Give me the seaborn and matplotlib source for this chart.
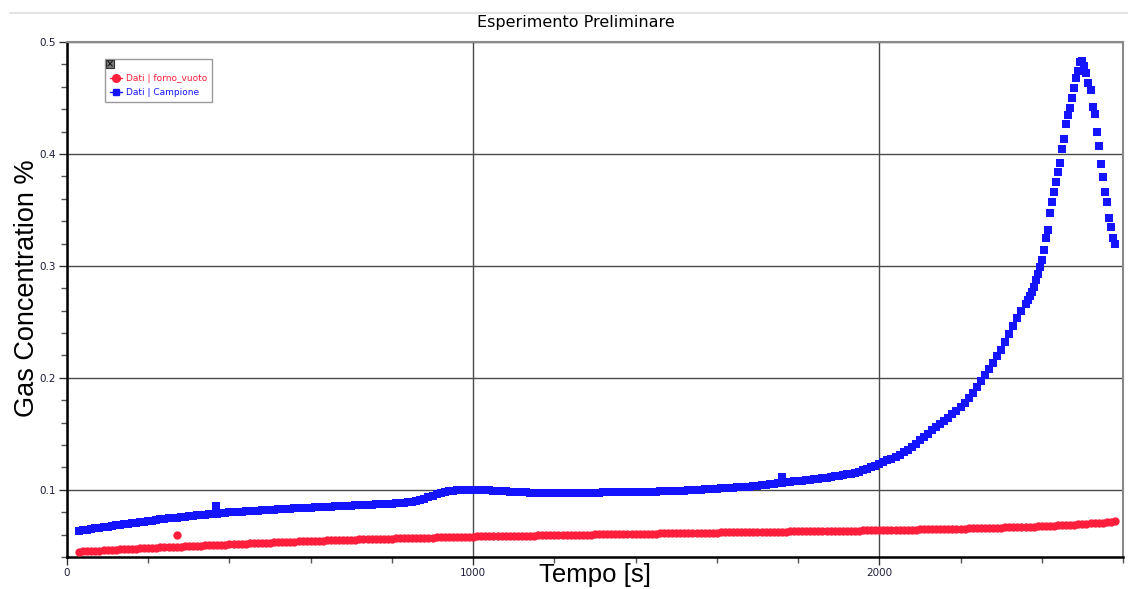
import numpy as np
import pandas as pd
import matplotlib
matplotlib.use("Agg")
import matplotlib.pyplot as plt
import seaborn as sns
from matplotlib.lines import Line2D
from matplotlib.patches import Rectangle
from matplotlib.ticker import MultipleLocator, FormatStrFormatter

# ---------------------------------------------------------------------------
# Data: gas concentration (%) vs time (s)
# ---------------------------------------------------------------------------
# empty furnace run, logged every 10 s from 30 s to 2580 s
empty_t = np.arange(30, 2581, 10)
empty_gas = [
    0.0448, 0.0450, 0.0452, 0.0454, 0.0456, 0.0458, 0.0460, 0.0462, 0.0463, 0.0465,
    0.0467, 0.0469, 0.0471, 0.0472, 0.0474, 0.0476, 0.0478, 0.0480, 0.0481, 0.0483,
    0.0485, 0.0487, 0.0488, 0.0490, 0.0492, 0.0493, 0.0495, 0.0497, 0.0498, 0.0500,
    0.0502, 0.0503, 0.0505, 0.0507, 0.0508, 0.0510, 0.0511, 0.0513, 0.0515, 0.0516,
    0.0518, 0.0519, 0.0521, 0.0522, 0.0524, 0.0525, 0.0527, 0.0528, 0.0530, 0.0531,
    0.0533, 0.0534, 0.0536, 0.0537, 0.0539, 0.0540, 0.0541, 0.0543, 0.0544, 0.0546,
    0.0547, 0.0548, 0.0549, 0.0550, 0.0551, 0.0552, 0.0553, 0.0555, 0.0556, 0.0557,
    0.0558, 0.0559, 0.0560, 0.0561, 0.0562, 0.0563, 0.0564, 0.0565, 0.0566, 0.0567,
    0.0568, 0.0569, 0.0570, 0.0571, 0.0572, 0.0572, 0.0573, 0.0574, 0.0575, 0.0576,
    0.0577, 0.0578, 0.0579, 0.0580, 0.0580, 0.0581, 0.0582, 0.0583, 0.0584, 0.0584,
    0.0585, 0.0586, 0.0586, 0.0587, 0.0588, 0.0588, 0.0589, 0.0589, 0.0590, 0.0590,
    0.0591, 0.0592, 0.0592, 0.0593, 0.0593, 0.0594, 0.0594, 0.0595, 0.0596, 0.0596,
    0.0597, 0.0598, 0.0598, 0.0599, 0.0599, 0.0600, 0.0600, 0.0601, 0.0602, 0.0602,
    0.0603, 0.0603, 0.0604, 0.0604, 0.0605, 0.0605, 0.0606, 0.0606, 0.0607, 0.0607,
    0.0608, 0.0609, 0.0609, 0.0610, 0.0610, 0.0611, 0.0611, 0.0612, 0.0613, 0.0613,
    0.0614, 0.0614, 0.0615, 0.0616, 0.0616, 0.0617, 0.0617, 0.0618, 0.0619, 0.0619,
    0.0620, 0.0620, 0.0621, 0.0621, 0.0622, 0.0622, 0.0623, 0.0623, 0.0626, 0.0625,
    0.0625, 0.0626, 0.0626, 0.0627, 0.0627, 0.0628, 0.0628, 0.0629, 0.0629, 0.0630,
    0.0630, 0.0631, 0.0631, 0.0632, 0.0632, 0.0633, 0.0633, 0.0634, 0.0634, 0.0635,
    0.0635, 0.0636, 0.0636, 0.0637, 0.0638, 0.0638, 0.0639, 0.0639, 0.0640, 0.0640,
    0.0641, 0.0642, 0.0642, 0.0643, 0.0644, 0.0644, 0.0645, 0.0646, 0.0646, 0.0647,
    0.0648, 0.0649, 0.0650, 0.0650, 0.0651, 0.0652, 0.0653, 0.0654, 0.0654, 0.0655,
    0.0656, 0.0657, 0.0658, 0.0659, 0.0660, 0.0661, 0.0662, 0.0663, 0.0664, 0.0665,
    0.0666, 0.0667, 0.0668, 0.0670, 0.0671, 0.0672, 0.0674, 0.0675, 0.0677, 0.0678,
    0.0680, 0.0682, 0.0684, 0.0686, 0.0688, 0.0690, 0.0692, 0.0695, 0.0697, 0.0700,
    0.0702, 0.0705, 0.0708, 0.0711, 0.0714, 0.0718,
]
empty_spike_t = [270]
empty_spike_gas = [0.0598]

# sample run: 10 s steps up to 2360 s, then 5 s steps through the peak
sample_t = np.concatenate([np.arange(30, 2361, 10), np.arange(2365, 2581, 5)])
sample_gas = [
    0.0633, 0.0639, 0.0645, 0.0651, 0.0656, 0.0662, 0.0667, 0.0672, 0.0677, 0.0682,
    0.0687, 0.0692, 0.0697, 0.0702, 0.0707, 0.0712, 0.0717, 0.0722, 0.0726, 0.0731,
    0.0735, 0.0740, 0.0744, 0.0748, 0.0752, 0.0756, 0.0760, 0.0765, 0.0768, 0.0772,
    0.0775, 0.0778, 0.0782, 0.0785, 0.0788, 0.0791, 0.0794, 0.0798, 0.0800, 0.0803,
    0.0805, 0.0808, 0.0810, 0.0813, 0.0815, 0.0817, 0.0820, 0.0822, 0.0824, 0.0826,
    0.0828, 0.0830, 0.0832, 0.0834, 0.0836, 0.0838, 0.0840, 0.0842, 0.0844, 0.0846,
    0.0847, 0.0849, 0.0851, 0.0853, 0.0854, 0.0856, 0.0858, 0.0860, 0.0862, 0.0863,
    0.0865, 0.0867, 0.0868, 0.0870, 0.0872, 0.0873, 0.0875, 0.0877, 0.0879, 0.0881,
    0.0884, 0.0888, 0.0893, 0.0900, 0.0910, 0.0922, 0.0935, 0.0948, 0.0960, 0.0970,
    0.0980, 0.0988, 0.0993, 0.0996, 0.0998, 0.0999, 0.0999, 0.0999, 0.0998, 0.0997,
    0.0996, 0.0994, 0.0992, 0.0990, 0.0988, 0.0986, 0.0984, 0.0982, 0.0980, 0.0978,
    0.0977, 0.0976, 0.0975, 0.0974, 0.0974, 0.0973, 0.0973, 0.0973, 0.0973, 0.0973,
    0.0974, 0.0974, 0.0974, 0.0975, 0.0975, 0.0975, 0.0976, 0.0976, 0.0976, 0.0977,
    0.0977, 0.0978, 0.0978, 0.0979, 0.0979, 0.0980, 0.0980, 0.0981, 0.0982, 0.0982,
    0.0983, 0.0984, 0.0985, 0.0986, 0.0987, 0.0988, 0.0989, 0.0990, 0.0991, 0.0993,
    0.0995, 0.0997, 0.1000, 0.1002, 0.1004, 0.1006, 0.1008, 0.1010, 0.1012, 0.1014,
    0.1016, 0.1018, 0.1021, 0.1023, 0.1026, 0.1029, 0.1032, 0.1035, 0.1039, 0.1043,
    0.1048, 0.1053, 0.1058, 0.1063, 0.1068, 0.1072, 0.1076, 0.1079, 0.1083, 0.1087,
    0.1091, 0.1095, 0.1100, 0.1105, 0.1110, 0.1115, 0.1120, 0.1126, 0.1132, 0.1138,
    0.1145, 0.1152, 0.1162, 0.1175, 0.1188, 0.1202, 0.1217, 0.1233, 0.1247, 0.1262,
    0.1277, 0.1295, 0.1315, 0.1337, 0.1360, 0.1385, 0.1413, 0.1442, 0.1472, 0.1502,
    0.1530, 0.1558, 0.1585, 0.1612, 0.1642, 0.1673, 0.1706, 0.1740, 0.1780, 0.1822,
    0.1866, 0.1918, 0.1970, 0.2025, 0.2080, 0.2135, 0.2192, 0.2252, 0.2320, 0.2393,
    0.2465, 0.2535, 0.2598, 0.2660,
    # 5 s steps, 2365 s .. 2580 s
    0.2695, 0.2730, 0.2770, 0.2815, 0.2870, 0.2930, 0.2990, 0.3050, 0.3140, 0.3250,
    0.3320, 0.3470, 0.3570, 0.3660, 0.3750, 0.3840, 0.3920, 0.4040, 0.4130, 0.4270,
    0.4350, 0.4410, 0.4500, 0.4590, 0.4680, 0.4740, 0.4820, 0.4830, 0.4790, 0.4720,
    0.4630, 0.4570, 0.4420, 0.4360, 0.4200, 0.4070, 0.3910, 0.3790, 0.3660, 0.3570,
    0.3430, 0.3350, 0.3250, 0.3200,
]
sample_spike_t = [367, 1760]
sample_spike_gas = [0.0857, 0.1119]

series_labels = ["Dati | forno_vuoto", "Dati | Campione"]
series_colors = ["#ff1e3c", "#1414ff"]

assert len(empty_t) == len(empty_gas)
assert len(sample_t) == len(sample_gas)

empty_df = pd.DataFrame({
    "t": np.concatenate([empty_t, empty_spike_t]),
    "gas": np.concatenate([empty_gas, empty_spike_gas]),
})
sample_df = pd.DataFrame({
    "t": np.concatenate([sample_t, sample_spike_t]),
    "gas": np.concatenate([sample_gas, sample_spike_gas]),
})

# ---------------------------------------------------------------------------
# Figure
# ---------------------------------------------------------------------------
sns.set_theme(style="ticks")
plt.rcParams["font.family"] = ["DejaVu Sans"]

W, H = 1128, 589
fig = plt.figure(figsize=(W / 100, H / 100), dpi=100)
ax = fig.add_axes([67 / W, 1 - 557 / H, (1123 - 67) / W, (557 - 42) / H])

sns.scatterplot(data=empty_df, x="t", y="gas", marker="o", s=36,
                color=series_colors[0], linewidth=0, ax=ax, legend=False, zorder=3)
sns.scatterplot(data=sample_df, x="t", y="gas", marker="s", s=40,
                color=series_colors[1], linewidth=0, ax=ax, legend=False, zorder=4)

ax.set_xlim(0, 2600)
ax.set_ylim(0.04, 0.5)

ax.xaxis.set_major_locator(MultipleLocator(1000))
ax.xaxis.set_minor_locator(MultipleLocator(200))
ax.yaxis.set_major_locator(MultipleLocator(0.1))
ax.yaxis.set_minor_locator(MultipleLocator(0.02))
ax.xaxis.set_major_formatter(FormatStrFormatter("%d"))
ax.yaxis.set_major_formatter(FormatStrFormatter("%.1f"))

ax.tick_params(axis="both", which="major", direction="out", length=6, width=1,
               color="#333333", labelsize=7.5, labelcolor="#1e1e3c", pad=2)
ax.tick_params(axis="both", which="minor", direction="out", length=4, width=1,
               color="#555555")

ax.set_axisbelow(True)
ax.grid(True, which="major", color="#4a4a4a", linewidth=1.0)

for side in ("left", "bottom"):
    ax.spines[side].set_color("black")
    ax.spines[side].set_linewidth(1.8)
for side in ("top", "right"):
    ax.spines[side].set_color("#8a8a8a")
    ax.spines[side].set_linewidth(1.5)

ax.set_xlabel("Tempo [s]", fontsize=18.5, family="Liberation Sans", color="black")
ax.set_ylabel("Gas Concentration %", fontsize=19.5, family="Liberation Sans", color="black")
ax.xaxis.set_label_coords(0.5, -0.012)
ax.yaxis.set_label_coords(-0.026, 0.522)

fig.text(576 / W, 1 - 22 / H, "Esperimento Preliminare", ha="center", va="center",
         fontsize=11.5, color="black")

# legend with coloured entry texts
handles = [
    Line2D([], [], color=series_colors[0], marker="o", markersize=5.5, lw=1),
    Line2D([], [], color=series_colors[1], marker="s", markersize=5, lw=1),
]
leg = ax.legend(handles, series_labels, loc="upper left",
                bbox_to_anchor=(0.036, 0.967), borderaxespad=0,
                fontsize=6.5, frameon=True, fancybox=False, framealpha=1,
                edgecolor="#9a9a9a", handlelength=1.4, handletextpad=0.4,
                borderpad=0.5, labelspacing=0.6, numpoints=1,
                title=" ", title_fontsize=4.5)
leg.get_frame().set_linewidth(1.0)
for txt, c in zip(leg.get_texts(), series_colors):
    txt.set_color(c)

# small close box in the legend corner
fig.add_artist(Rectangle((106 / W, 1 - 68 / H), 8 / W, 8 / H, transform=fig.transFigure,
                         facecolor="#7a7a7a", edgecolor="#333333", linewidth=0.8, zorder=10))
fig.text(110 / W, 1 - 64 / H, "×", ha="center", va="center", fontsize=7,
         color="black", zorder=11)

# thin separator along the top of the window
fig.add_artist(Line2D([10 / W, 1.0], [1 - 13 / H, 1 - 13 / H], transform=fig.transFigure,
                      color="#e4e4e4", linewidth=1.5))

fig.savefig("out.png", dpi=100)
